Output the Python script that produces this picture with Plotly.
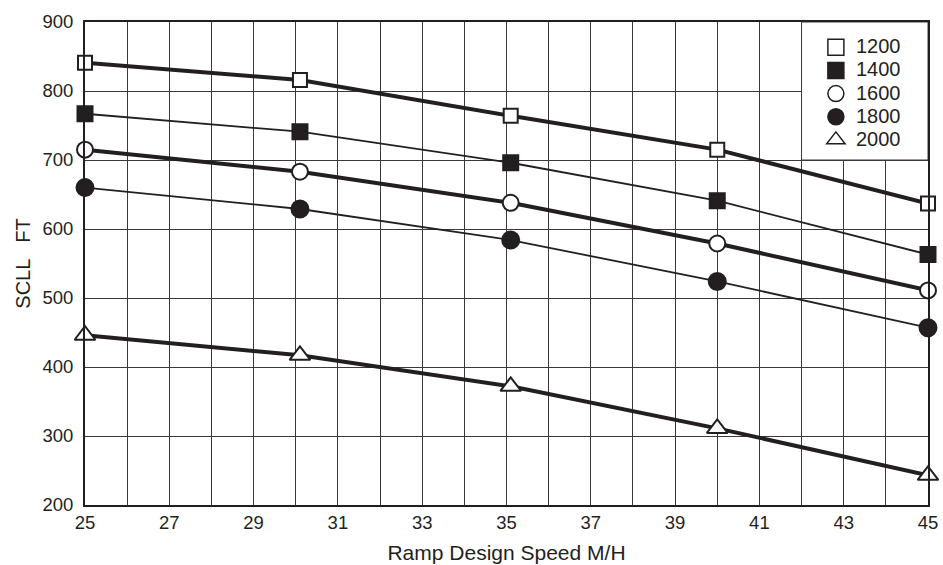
import plotly.graph_objects as go

speed = [25, 30.1, 35.1, 40, 45]
series_names = ["1200", "1400", "1600", "1800", "2000"]
v1200 = [841, 816, 764, 715, 637]
v1400 = [767, 741, 696, 641, 563]
v1600 = [715, 683, 638, 579, 511]
v1800 = [660, 629, 584, 524, 457]
v2000 = [446, 417, 372, 311, 243]
x_ticks = [25, 27, 29, 31, 33, 35, 37, 39, 41, 43, 45]
y_ticks = [200, 300, 400, 500, 600, 700, 800, 900]

INK = "#231f20"
GRID = "#3a3a3a"

styles = [
    (v1200, "square", "white", 4, 14),
    (v1400, "square", INK, 1.8, 15),
    (v1600, "circle", "white", 4, 16),
    (v1800, "circle", INK, 1.8, 17),
    (v2000, "triangle-up", "white", 4, 18),
]

fig = go.Figure()
for name, (vals, sym, fill, lw, ms) in zip(series_names, styles):
    fig.add_trace(go.Scatter(
        x=speed, y=vals, mode="lines+markers", name=name, showlegend=False,
        line=dict(color=INK, width=lw),
        marker=dict(symbol=sym, size=ms, color=fill, line=dict(color=INK, width=2)),
        cliponaxis=False,
    ))
for name, (vals, sym, fill, lw, ms) in zip(series_names, styles):
    fig.add_trace(go.Scatter(
        x=[None], y=[None], mode="markers",
        name='<span style="font-size:20px">' + name + "</span>", showlegend=True,
        marker=dict(symbol=sym, size=ms + 2, color=fill, line=dict(color=INK, width=1.5)),
    ))

# white legend panel (covers grid lines)
fig.add_shape(type="rect", xref="x", yref="y", x0=42, x1=45, y0=700, y1=900,
              fillcolor="white", line=dict(color=GRID, width=1), layer="between")

font = "Liberation Sans, Arial, Helvetica, sans-serif"
fig.update_layout(
    width=943, height=565,
    margin=dict(l=85, r=15, t=22, b=60, autoexpand=False),
    paper_bgcolor="white", plot_bgcolor="white",
    font=dict(family=font, size=18, color=INK),
    showlegend=True,
    legend=dict(x=0.867, y=0.982, xanchor="left", yanchor="top",
                bgcolor="rgba(0,0,0,0)", font=dict(size=15.5, color=INK),
                tracegroupgap=0, itemwidth=30),
    xaxis=dict(range=[25, 45], tickvals=x_ticks, ticktext=[str(t) for t in x_ticks],
               showgrid=True, gridcolor=GRID, gridwidth=1,
               minor=dict(dtick=1, tick0=25, showgrid=True, gridcolor=GRID, gridwidth=1),
               showline=True, linecolor=INK, linewidth=2, mirror=True,
               ticks="", tickfont=dict(size=18.5), zeroline=False, automargin=False,
               title=dict(text="Ramp Design Speed M/H", font=dict(size=21), standoff=13)),
    yaxis=dict(range=[200, 900], tickvals=y_ticks, ticktext=[str(t) for t in y_ticks],
               showgrid=True, gridcolor=GRID, gridwidth=1,
               showline=True, linecolor=INK, linewidth=2, mirror=True,
               ticks="", tickfont=dict(size=18.5), zeroline=False, automargin=False,
               ticklabelstandoff=6,
               title=dict(text="SCLL   FT", font=dict(size=20), standoff=6)),
)

fig.write_html("out.html", config={"displayModeBar": False},
               post_script="document.body.style.margin='0';")
